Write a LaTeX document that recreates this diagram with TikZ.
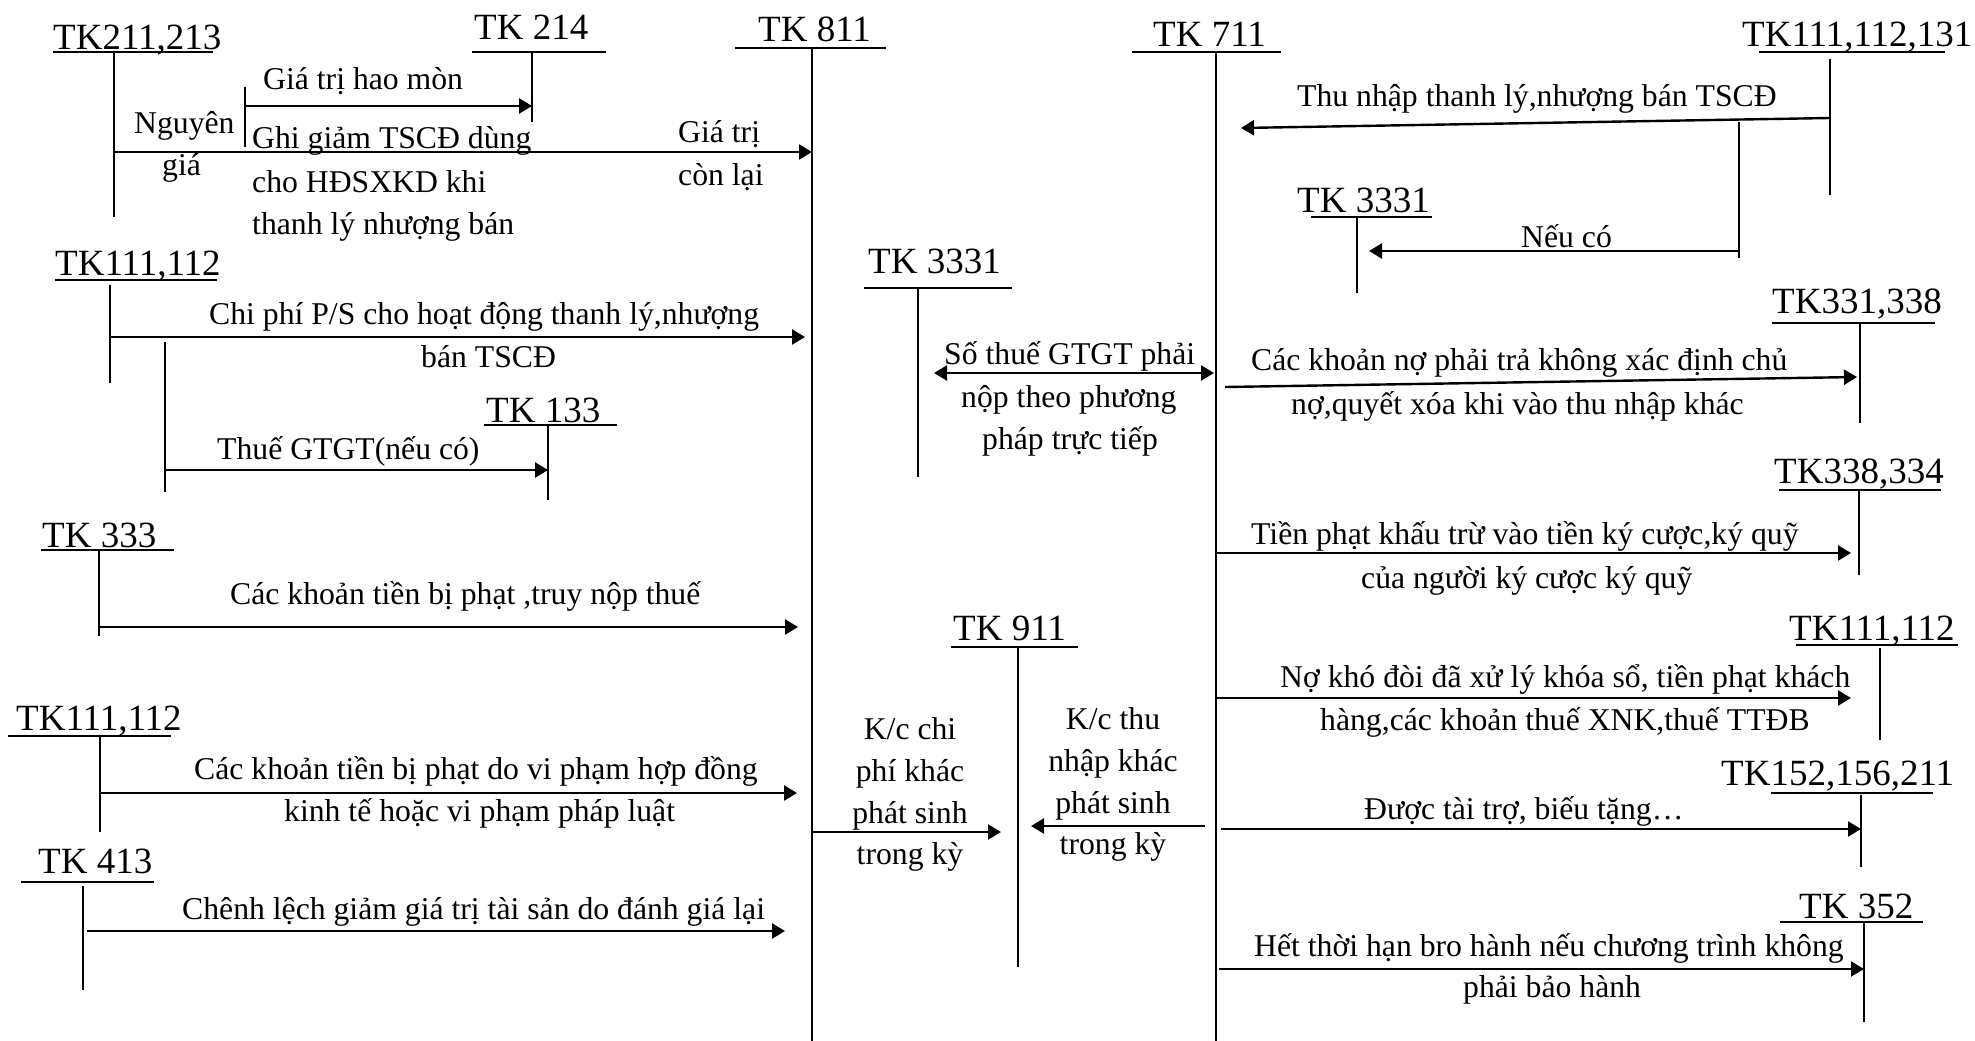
\documentclass[tikz,border=0pt]{standalone}
\usepackage{fontspec}
\setmainfont{Liberation Serif}
\usetikzlibrary{arrows.meta}
\begin{document}
\begin{tikzpicture}[x=1pt,y=-1pt,
  lbl/.style={anchor=base west,inner sep=0pt,yshift=-2.5pt,font=\fontsize{31.7}{42}\selectfont},
  lblc/.style={anchor=base,inner sep=0pt,yshift=-2pt,font=\fontsize{31.7}{42}\selectfont},
  tk/.style={anchor=base west,inner sep=0pt,font=\fontsize{37}{44}\selectfont},
  bar/.style={line width=2.6pt},
  acc/.style={line width=1.8pt},
  arr/.style={line width=2.4pt,-{Triangle[length=13pt,width=15pt]}},
  darr/.style={line width=2.4pt,{Triangle[length=13pt,width=15pt]}-{Triangle[length=13pt,width=15pt]}},
]
\fill[white] (0,0) rectangle (1975,1041);
\useasboundingbox (0,0) rectangle (1975,1041);

% ---------- T accounts: title, top bar, vertical line ----------
\node[tk] (t211) at (53,49) {TK211,213};
\draw[bar] (53,52) -- (213,52);
\coordinate (v211t) at (114,52); \coordinate (v211b) at (114,217);
\draw[acc] (v211t) -- (v211b);

\node[tk] (t214) at (474,40) {TK 214};
\draw[bar] (472,52) -- (606,52);
\coordinate (v214t) at (532,52); \coordinate (v214b) at (532,122);
\draw[acc] (v214t) -- (v214b);

\node[tk] (t811) at (758,42) {TK 811};
\draw[bar] (735,48) -- (886,48);
\coordinate (v811t) at (812,48); \coordinate (v811b) at (812,1041);
\draw[acc] (v811t) -- (v811b);

\node[tk] (t711) at (1153,47) {TK 711};
\draw[bar] (1132,52) -- (1281,52);
\coordinate (v711t) at (1216,52); \coordinate (v711b) at (1216,1041);
\draw[acc] (v711t) -- (v711b);

\node[tk] (t111r) at (1742,47) {TK111,112,131};
\draw[bar] (1759,52) -- (1945,52);
\coordinate (v111rt) at (1830,59); \coordinate (v111rb) at (1830,195);
\draw[acc] (v111rt) -- (v111rb);

\node[tk] (t3331r) at (1297,212) {TK 3331};
\draw[bar] (1311,217) -- (1432,217);
\coordinate (v3331rt) at (1357,217); \coordinate (v3331rb) at (1357,293);
\draw[acc] (v3331rt) -- (v3331rb);

\node[tk] (t331) at (1772,313) {TK331,338};
\draw[bar] (1772,323) -- (1935,323);
\coordinate (v331t) at (1860,323); \coordinate (v331b) at (1860,423);
\draw[acc] (v331t) -- (v331b);

\node[tk] (t111a) at (55,275) {TK111,112};
\draw[bar] (55,280) -- (217,280);
\coordinate (v111at) at (110,285); \coordinate (v111ab) at (110,383);
\draw[acc] (v111at) -- (v111ab);
\coordinate (br111t) at (165,342); \coordinate (br111b) at (165,492);
\draw[acc] (br111t) -- (br111b);

\node[tk] (t133) at (486,422) {TK 133};
\draw[bar] (484,425) -- (617,425);
\coordinate (v133t) at (548,425); \coordinate (v133b) at (548,500);
\draw[acc] (v133t) -- (v133b);

\node[tk] (t3331m) at (868,273) {TK 3331};
\draw[bar] (864,288) -- (1012,288);
\coordinate (v3331mt) at (918,288); \coordinate (v3331mb) at (918,477);
\draw[acc] (v3331mt) -- (v3331mb);

\node[tk] (t333) at (42,547) {TK 333};
\draw[bar] (41,550) -- (174,550);
\coordinate (v333t) at (99,550); \coordinate (v333b) at (99,636);
\draw[acc] (v333t) -- (v333b);

\node[tk] (t338) at (1774,483) {TK338,334};
\draw[bar] (1779,490) -- (1941,490);
\coordinate (v338t) at (1859,490); \coordinate (v338b) at (1859,575);
\draw[acc] (v338t) -- (v338b);

\node[tk] (t911) at (953,640) {TK 911};
\draw[bar] (951,647) -- (1078,647);
\coordinate (v911t) at (1018,647); \coordinate (v911b) at (1018,967);
\draw[acc] (v911t) -- (v911b);

\node[tk] (t111c) at (1789,640) {TK111,112};
\draw[bar] (1796,645) -- (1958,645);
\coordinate (v111ct) at (1880,648); \coordinate (v111cb) at (1880,740);
\draw[acc] (v111ct) -- (v111cb);

\node[tk] (t111b) at (16,730) {TK111,112};
\draw[bar] (8,736) -- (171,736);
\coordinate (v111bt) at (100,736); \coordinate (v111bb) at (100,832);
\draw[acc] (v111bt) -- (v111bb);

\node[tk] (t152) at (1721,785) {TK152,156,211};
\draw[bar] (1771,793) -- (1933,793);
\coordinate (v152t) at (1861,795); \coordinate (v152b) at (1861,867);
\draw[acc] (v152t) -- (v152b);

\node[tk] (t413) at (38,873) {TK 413};
\draw[bar] (21,882) -- (154,882);
\coordinate (v413t) at (83,886); \coordinate (v413b) at (83,990);
\draw[acc] (v413t) -- (v413b);

\node[tk] (t352) at (1799,918) {TK 352};
\draw[bar] (1780,922) -- (1923,922);
\coordinate (v352t) at (1864,922); \coordinate (v352b) at (1864,1022);
\draw[acc] (v352t) -- (v352b);

% ---------- left side entries ----------
\coordinate (tickhm) at (245,87); \coordinate (tickhmb) at (245,147);
\draw[acc] (tickhm) -- (tickhmb);
\draw[arr] (tickhm |- 0,106) -- (v214t |- 0,106);
\node[lbl] (l1) at (263,87) {Giá trị hao mòn};

\draw[arr] (v211t |- 0,152) -- (v811t |- 0,152);
\node[lbl] (l2a) at (134,131) {Nguyên};
\node[lbl] (l2b) at (162,173) {giá};
\node[lbl] (l3a) at (252,146) {Ghi giảm TSCĐ dùng};
\node[lbl] (l3b) at (252,190) {cho HĐSXKD khi};
\node[lbl] (l3c) at (252,232) {thanh lý nhượng bán};
\node[lbl] (l4a) at (678,140) {Giá trị};
\node[lbl] (l4b) at (678,183) {còn lại};

\coordinate (cpend) at (805,337);
\draw[arr] (v111at |- cpend) -- (cpend);
\node[lbl] (l5a) at (209,322) {Chi phí P/S cho hoạt động thanh lý,nhượng};
\node[lbl] (l5b) at (421,365) {bán TSCĐ};

\draw[arr] (br111t |- 0,470) -- (v133t |- 0,470);
\node[lbl] (l6) at (217,457) {Thuế GTGT(nếu có)};

\coordinate (phend) at (798,627);
\draw[arr] (v333t |- phend) -- (phend);
\node[lbl] (l7) at (230,602) {Các khoản tiền bị phạt ,truy nộp thuế};

\coordinate (vpend) at (797,793);
\draw[arr] (v111bt |- vpend) -- (vpend);
\node[lbl] (l8a) at (194,777) {Các khoản tiền bị phạt do vi phạm hợp đồng};
\node[lbl] (l8b) at (284,819) {kinh tế hoặc vi phạm pháp luật};

\coordinate (clend) at (785,931);
\draw[arr] (87,931) -- (clend);
\node[lbl] (l9) at (182,917) {Chênh lệch giảm giá trị tài sản do đánh giá lại};

% ---------- closing entries to TK 911 ----------
\coordinate (kcend) at (1001,832);
\draw[arr] (v811t |- kcend) -- (kcend);
\node[lblc] (l10a) at (910,737) {K/c chi};
\node[lblc] (l10b) at (910,779) {phí khác};
\node[lblc] (l10c) at (910,821) {phát sinh};
\node[lblc] (l10d) at (910,862) {trong kỳ};

\coordinate (ktstart) at (1205,826); \coordinate (ktend) at (1031,826);
\draw[arr] (ktstart) -- (ktend);
\node[lblc] (l11a) at (1113,727) {K/c thu};
\node[lblc] (l11b) at (1113,769) {nhập khác};
\node[lblc] (l11c) at (1113,811) {phát sinh};
\node[lblc] (l11d) at (1113,852) {trong kỳ};

% ---------- right side entries ----------
\coordinate (tnstart) at (1830,118); \coordinate (tnend) at (1241,128);
\draw[arr] (tnstart) -- (tnend);
\node[lbl] (l12) at (1297,104) {Thu nhập thanh lý,nhượng bán TSCĐ};

\coordinate (tickvat) at (1739,122); \coordinate (tickvatb) at (1739,258);
\draw[acc] (tickvat) -- (tickvatb);
\coordinate (ncend) at (1369,251);
\draw[arr] (tickvat |- ncend) -- (ncend);
\node[lbl] (l13) at (1521,245) {Nếu có};

\coordinate (vatl) at (934,373); \coordinate (vatr) at (1214,373);
\draw[darr] (vatl) -- (vatr);
\node[lbl] (l14a) at (944,362) {Số thuế GTGT phải};
\node[lbl] (l14b) at (961,405) {nộp theo phương};
\node[lbl] (l14c) at (982,447) {pháp trực tiếp};

\coordinate (nostart) at (1225,387); \coordinate (noend) at (1857,377);
\draw[arr] (nostart) -- (noend);
\node[lbl] (l15a) at (1251,368) {Các khoản nợ phải trả không xác định chủ};
\node[lbl] (l15b) at (1291,412) {nợ,quyết xóa khi vào thu nhập khác};

\coordinate (tpend) at (1851,553);
\draw[arr] (v711t |- tpend) -- (tpend);
\node[lbl] (l16a) at (1251,542) {Tiền phạt khấu trừ vào tiền ký cược,ký quỹ};
\node[lbl] (l16b) at (1361,586) {của người ký cược ký quỹ};

\coordinate (nkend) at (1851,698);
\draw[arr] (v711t |- nkend) -- (nkend);
\node[lbl] (l17a) at (1280,685) {Nợ khó đòi đã xử lý khóa sổ, tiền phạt khách};
\node[lbl] (l17b) at (1320,728) {hàng,các khoản thuế XNK,thuế TTĐB};

\coordinate (ttstart) at (1221,829);
\draw[arr] (ttstart) -- (v152t |- ttstart);
\node[lbl] (l18) at (1364,817) {Được tài trợ, biếu tặng…};

\coordinate (bhstart) at (1219,969);
\draw[arr] (bhstart) -- (v352t |- bhstart);
\node[lbl] (l19a) at (1254,954) {Hết thời hạn bro hành nếu chương trình không};
\node[lbl] (l19b) at (1463,995) {phải bảo hành};
\end{tikzpicture}
\end{document}
